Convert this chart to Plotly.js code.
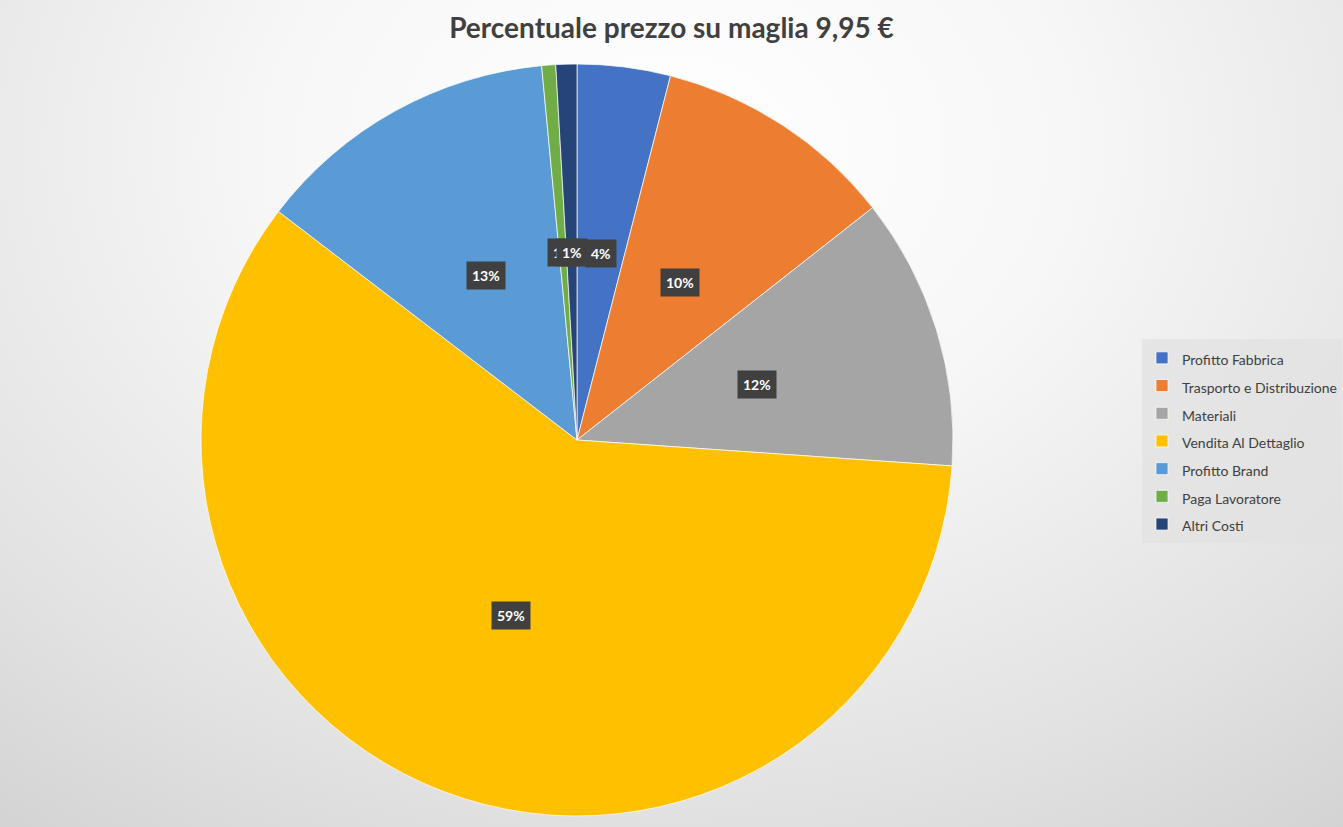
<!DOCTYPE html>
<html>
<head>
<meta charset="utf-8">
<script src="https://cdn.plot.ly/plotly-3.0.1.min.js"></script>
<style>
  html, body { margin: 0; padding: 0; overflow: hidden; }
  #chart {
    width: 1343px; height: 827px;
    background: radial-gradient(ellipse 85% 105% at 50% 18%, #ffffff 0%, #f7f7f7 35%, #e2e2e2 75%, #d2d2d2 100%);
  }
</style>
</head>
<body>
<div id="chart"></div>
<script>
const categories = ["Profitto Fabbrica", "Trasporto e Distribuzione", "Materiali", "Vendita Al Dettaglio", "Profitto Brand", "Paga Lavoratore", "Altri Costi"];
const values = [4.0, 10.4, 11.7, 59.3, 13.1, 0.6, 0.9];
const colors = ["#4472C4", "#ED7D31", "#A5A5A5", "#FFC000", "#5B9BD5", "#70AD47", "#264478"];
const titleText = "Percentuale prezzo su maglia 9,95 €";

const W = 1343, H = 827;
const cx = 577, cy = 440, R = 376;
const domX = [(cx - R) / W, (cx + R) / W];
const domY = [1 - (cy + R) / H, 1 - (cy - R) / H];

const total = values.reduce((a, b) => a + b, 0);
let cum = 0;
const annotations = values.map((v, i) => {
  const mid = (cum + v / 2) / total * 2 * Math.PI;
  cum += v;
  const px = cx + 0.5 * R * Math.sin(mid);
  const py = cy - 0.5 * R * Math.cos(mid);
  return {
    x: px / W, y: 1 - py / H, xref: 'paper', yref: 'paper',
    text: '<b>' + Math.round(v / total * 100) + '%</b>',
    showarrow: false,
    font: { family: 'Lato, "Open Sans", sans-serif', size: 14, color: '#ffffff' },
    bgcolor: '#404040', borderpad: 5, xanchor: 'center', yanchor: 'middle'
  };
});

const legendLabels = categories.map(c => '<span style="font-size:14px">' + c + '</span>');

const trace = {
  type: 'pie',
  labels: legendLabels,
  values: values,
  sort: false,
  direction: 'clockwise',
  rotation: 0,
  textinfo: 'none',
  hoverinfo: 'label+percent',
  marker: { colors: colors, line: { color: 'rgba(255,255,255,0.7)', width: 1 } },
  domain: { x: domX, y: domY }
};

const layout = {
  width: W, height: H,
  margin: { l: 0, r: 0, t: 0, b: 0 },
  paper_bgcolor: 'rgba(0,0,0,0)',
  plot_bgcolor: 'rgba(0,0,0,0)',
  title: {
    text: '<b>' + titleText + '</b>',
    font: { family: 'Lato, "Open Sans", sans-serif', size: 28, color: '#404040' },
    x: 0.5, xanchor: 'center', y: 1 - 28 / H, yanchor: 'middle'
  },
  showlegend: true,
  legend: {
    x: 1342 / W, xanchor: 'right', y: 1 - 441 / H, yanchor: 'middle',
    bgcolor: 'rgba(225,225,225,0.75)',
    font: { family: 'Lato, "Open Sans", sans-serif', size: 19, color: '#404040' },
    traceorder: 'normal'
  },
  annotations: annotations
};

Plotly.newPlot('chart', [trace], layout, { displayModeBar: false });
</script>
</body>
</html>
